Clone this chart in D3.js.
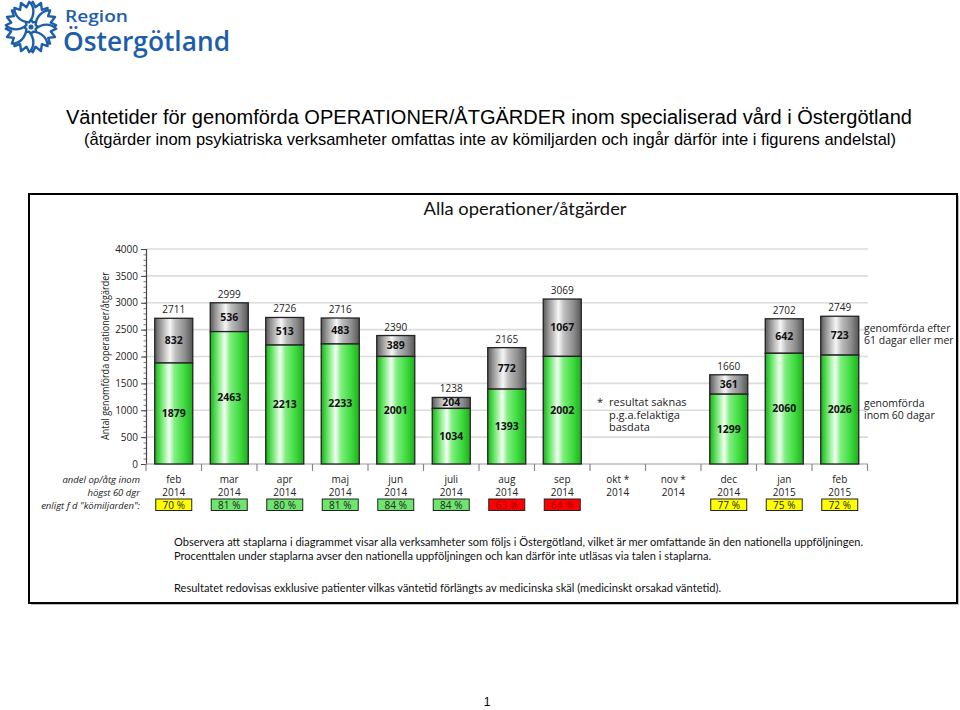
<!DOCTYPE html>
<html>
<head>
<meta charset="utf-8">
<style>
  body { margin: 0; background: #fff; }
  svg { display: block; }
</style>
</head>
<body>
<div id="chart"></div>
<script src="https://d3js.org/d3.v7.min.js"></script>
<script>
// data
var months   = ["feb", "mar", "apr", "maj", "jun", "juli", "aug", "sep", "okt *", "nov *", "dec", "jan", "feb"];
var years    = ["2014", "2014", "2014", "2014", "2014", "2014", "2014", "2014", "2014", "2014", "2014", "2015", "2015"];
var within60 = [1879, 2463, 2213, 2233, 2001, 1034, 1393, 2002, null, null, 1299, 2060, 2026];
var after61  = [832, 536, 513, 483, 389, 204, 772, 1067, null, null, 361, 642, 723];
var totals   = [2711, 2999, 2726, 2716, 2390, 1238, 2165, 3069, null, null, 1660, 2702, 2749];
var percent  = [70, 81, 80, 81, 84, 84, 63, 64, null, null, 77, 75, 72];
var yTicks   = [0, 500, 1000, 1500, 2000, 2500, 3000, 3500, 4000];

var W = 960, H = 710;
var svg = d3.select("#chart").append("svg").attr("width", W).attr("height", H);
var defs = svg.append("defs");

function grad(id, stops) {
  var g = defs.append("linearGradient").attr("id", id).attr("x1", 0).attr("x2", 1).attr("y1", 0).attr("y2", 0);
  stops.forEach(function (s) { g.append("stop").attr("offset", s[0]).attr("stop-color", s[1]); });
}
grad("gGreen", [[0, "#1faa1f"], [0.14, "#55e055"], [0.38, "#f2fff2"], [0.52, "#80ee80"], [0.78, "#3edb3e"], [1, "#1fae1f"]]);
grad("gGray",  [[0, "#5a5a5a"], [0.15, "#999"], [0.4, "#f6f6f6"], [0.55, "#bdbdbd"], [0.8, "#8c8c8c"], [1, "#555"]]);

// multi-line text as tspans of one element
function lines(g, x, y, dy, arr) {
  var t = g.append("text").attr("x", x).attr("y", y);
  arr.forEach(function (s, k) {
    t.append("tspan").attr("x", x).attr("dy", k === 0 ? 0 : dy).text(s);
  });
  return t;
}

// ---- logo ----
var logo = svg.append("g").attr("transform", "translate(31,27)");
for (var i = 0; i < 8; i++) {
  logo.append("path")
    .attr("d", "M0,-5 C-8,-9 -11,-17 -8,-24 L-3.5,-20 L0,-26 L3.5,-20 L8,-24 C11,-17 8,-9 0,-5 Z")
    .attr("transform", "rotate(" + (i * 45 + 22.5) + ")")
    .attr("fill", "#fff").attr("stroke", "#1d5ea8").attr("stroke-width", 2.4).attr("stroke-linejoin", "round");
}
logo.append("circle").attr("r", 2.5).attr("fill", "#1d5ea8");
var brand = svg.append("text").style("font-family", "Open Sans").style("font-weight", "600").attr("fill", "#1d5ea8");
brand.append("tspan").attr("x", 65).attr("y", 22).style("font-size", "17px")
  .attr("textLength", 63).attr("lengthAdjust", "spacingAndGlyphs").text("Region");
brand.append("tspan").attr("x", 63).attr("y", 51).style("font-size", "27px")
  .attr("textLength", 167).attr("lengthAdjust", "spacingAndGlyphs").text("Östergötland");

// ---- page titles ----
svg.append("text").attr("x", 66).attr("y", 124)
  .text("Väntetider för genomförda OPERATIONER/ÅTGÄRDER inom specialiserad vård i Östergötland")
  .attr("textLength", 846).attr("lengthAdjust", "spacingAndGlyphs")
  .style("font-family", "Liberation Sans").style("font-size", "20px").attr("fill", "#000");
svg.append("text").attr("x", 84).attr("y", 145)
  .text("(åtgärder inom psykiatriska verksamheter omfattas inte av kömiljarden och ingår därför inte i figurens andelstal)")
  .attr("textLength", 812).attr("lengthAdjust", "spacingAndGlyphs")
  .style("font-family", "Liberation Sans").style("font-size", "17px").attr("fill", "#000");

// ---- frame ----
svg.append("rect").attr("x", 31).attr("y", 196).attr("width", 928).attr("height", 409).attr("fill", "#bbb");
svg.append("rect").attr("x", 29).attr("y", 194).attr("width", 928).attr("height", 409)
  .attr("fill", "#fff").attr("stroke", "#000").attr("stroke-width", 2);

svg.append("text").attr("x", 525).attr("y", 215).attr("text-anchor", "middle")
  .text("Alla operationer/åtgärder")
  .attr("textLength", 203).attr("lengthAdjust", "spacingAndGlyphs")
  .style("font-family", "Lato").style("font-size", "18px").attr("fill", "#111");

// ---- scales ----
var cats = months.map(function (m, i) { return i; });
var x = d3.scaleBand().domain(cats).range([146, 867.5]).paddingInner(0.315).paddingOuter(0.1575);
var y = d3.scaleLinear().domain([0, 4000]).range([464, 249]);
var step = x.step(), x0 = 146;

// gridlines
svg.append("g").selectAll("line").data(yTicks.slice(1)).join("line")
  .attr("x1", 146).attr("x2", 868).attr("y1", function (d) { return y(d); }).attr("y2", function (d) { return y(d); })
  .attr("stroke", "#dcdcdc").attr("stroke-width", 1.6);

// y axis minor ticks
var minor = d3.range(0, 4001, 100);
svg.append("g").attr("transform", "translate(146,0)")
  .call(d3.axisLeft(y).tickValues(minor).tickSize(2.5).tickFormat(""))
  .call(function (g) { g.selectAll("line").attr("stroke", "#777"); g.select(".domain").remove(); });

// y axis
var yAx = svg.append("g").attr("transform", "translate(146,0)")
  .call(d3.axisLeft(y).tickValues(yTicks).tickSize(5).tickPadding(3).tickFormat(d3.format("d")));
yAx.select(".domain").attr("stroke", "#444").attr("stroke-width", 1.2);
yAx.selectAll("line").attr("stroke", "#444");
yAx.selectAll("text").style("font-family", "Open Sans").style("font-size", "10px").attr("fill", "#222");

// x axis line and boundary ticks
svg.append("line").attr("x1", 146).attr("x2", 868).attr("y1", 464).attr("y2", 464).attr("stroke", "#999").attr("stroke-width", 1.2);
svg.append("g").selectAll("line").data(d3.range(0, 14)).join("line")
  .attr("x1", function (i) { return x0 + i * step; }).attr("x2", function (i) { return x0 + i * step; })
  .attr("y1", 464).attr("y2", 471).attr("stroke", "#888").attr("stroke-width", 1.2);

// y axis title
svg.append("text").attr("transform", "translate(109,356) rotate(-90)").attr("text-anchor", "middle")
  .text("Antal genomförda operationer/åtgärder")
  .attr("textLength", 168).attr("lengthAdjust", "spacingAndGlyphs")
  .style("font-family", "Open Sans").style("font-size", "10.5px").attr("fill", "#222");

// ---- bars ----
var bars = svg.append("g");
cats.forEach(function (i) {
  if (within60[i] == null) return;
  var bx = x(i), bw = x.bandwidth();
  var yb = y(within60[i]), yt = y(totals[i]);
  bars.append("rect").attr("x", bx).attr("y", yt).attr("width", bw).attr("height", yb - yt)
    .attr("fill", "url(#gGray)").attr("stroke", "#222").attr("stroke-width", 1.3);
  bars.append("rect").attr("x", bx).attr("y", yb).attr("width", bw).attr("height", y(0) - yb)
    .attr("fill", "url(#gGreen)").attr("stroke", "#222").attr("stroke-width", 1.3);
  var cx = bx + bw / 2;
  bars.append("text").attr("x", cx).attr("y", (yb + y(0)) / 2 + 3.5).attr("text-anchor", "middle")
    .text(within60[i]).style("font-family", "Open Sans").style("font-weight", "bold").style("font-size", "10.5px").attr("fill", "#111");
  bars.append("text").attr("x", cx).attr("y", (yt + yb) / 2 + 3.5).attr("text-anchor", "middle")
    .text(after61[i]).style("font-family", "Open Sans").style("font-weight", "bold").style("font-size", "10.5px").attr("fill", "#111");
  bars.append("text").attr("x", cx).attr("y", yt - 5).attr("text-anchor", "middle")
    .text(totals[i]).style("font-family", "Open Sans").style("font-size", "10px").attr("fill", "#222");
});

// ---- labels under the axis ----
var under = svg.append("g").style("font-family", "Open Sans").style("font-size", "10px");
cats.forEach(function (i) {
  var cx = x(i) + x.bandwidth() / 2;
  under.append("text").attr("x", cx).attr("y", 483).attr("text-anchor", "middle").text(months[i]).attr("fill", "#222");
  under.append("text").attr("x", cx).attr("y", 496).attr("text-anchor", "middle").text(years[i]).attr("fill", "#222");
  if (percent[i] == null) return;
  var p = percent[i];
  var fill = p >= 80 ? "#6ee66e" : (p >= 70 ? "#ffff00" : "#ff0000");
  var tcol = p >= 70 ? "#222" : "#a00000";
  under.append("rect").attr("x", cx - 18).attr("y", 499).attr("width", 36).attr("height", 11.5)
    .attr("fill", fill).attr("stroke", "#222").attr("stroke-width", 1);
  under.append("text").attr("x", cx).attr("y", 508.5).attr("text-anchor", "middle").text(p + " %").attr("fill", tcol);
});

var side = svg.append("g").style("font-family", "Open Sans").style("font-size", "9.5px").style("font-style", "italic").attr("fill", "#222");
side.append("text").attr("x", 140).attr("y", 483).attr("text-anchor", "end").text("andel op/åtg inom");
side.append("text").attr("x", 140).attr("y", 496).attr("text-anchor", "end").text("högst 60 dgr");
side.append("text").attr("x", 140).attr("y", 509).attr("text-anchor", "end").text("enligt  f d \"kömiljarden\":");

// ---- legend and note ----
var leg = svg.append("g").style("font-family", "Open Sans").style("font-size", "10.5px").attr("fill", "#222");
lines(leg, 864, 332, 12, ["genomförda efter", "61 dagar eller mer"]);
lines(leg, 864, 407, 12, ["genomförda", "inom 60 dagar"]);

var note = svg.append("g").style("font-family", "Open Sans").style("font-size", "11px").attr("fill", "#222");
var nt = note.append("text").attr("x", 597).attr("y", 406);
nt.append("tspan").attr("x", 597).text("*");
nt.append("tspan").attr("x", 609).text("resultat saknas");
nt.append("tspan").attr("x", 609).attr("dy", 12.5).text("p.g.a.felaktiga");
nt.append("tspan").attr("x", 609).attr("dy", 12.5).text("basdata");

// ---- footnotes ----
var foot = svg.append("g").style("font-family", "Lato").style("font-size", "12px").attr("fill", "#111");
foot.append("text").attr("x", 174).attr("y", 546)
  .text("Observera att staplarna i diagrammet visar alla verksamheter som följs i Östergötland, vilket är mer omfattande än den nationella uppföljningen.")
  .attr("textLength", 689).attr("lengthAdjust", "spacingAndGlyphs");
foot.append("text").attr("x", 174).attr("y", 560)
  .text("Procenttalen under staplarna avser den nationella uppföljningen och kan därför inte utläsas via talen i staplarna.")
  .attr("textLength", 537).attr("lengthAdjust", "spacingAndGlyphs");
foot.append("text").attr("x", 174).attr("y", 592)
  .text("Resultatet redovisas exklusive patienter vilkas väntetid förlängts av medicinska skäl (medicinskt  orsakad väntetid).")
  .attr("textLength", 547).attr("lengthAdjust", "spacingAndGlyphs");

svg.append("text").attr("x", 487).attr("y", 706).attr("text-anchor", "middle").text("1")
  .style("font-family", "Liberation Sans").style("font-size", "12px").attr("fill", "#000");
</script>
</body>
</html>
